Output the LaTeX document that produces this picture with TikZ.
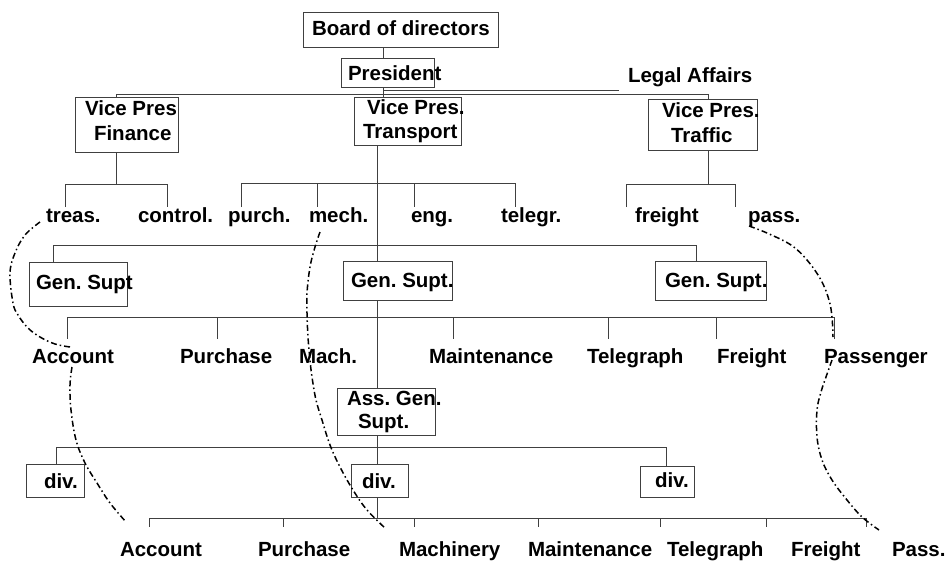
\documentclass[tikz,border=0pt]{standalone}
\usepackage{fontspec}
\setmainfont{Liberation Sans}
\begin{document}
\frenchspacing
\begin{tikzpicture}[x=1pt,y=-1pt,
  font=\fontsize{20.5}{24}\selectfont\bfseries\frenchspacing,
  line/.style={draw=black!75, line width=1pt},
  box/.style={draw=black!75, line width=1pt, inner sep=0pt, outer sep=0pt},
  lbl/.style={anchor=base west, inner sep=0pt, outer sep=0pt},
  dd/.style={line width=1.5pt, dash pattern=on 6pt off 3pt on 1.5pt off 3pt, line cap=butt}
]
\useasboundingbox (0,0) rectangle (948,563);

% ---------- boxes ----------
\node[box, minimum width=195pt, minimum height=35pt] (bod)  at (400.5,29.5) {};
\node[box, minimum width=93pt,  minimum height=29pt] (pres) at (387.5,72.5) {};
\node[box, minimum width=103pt, minimum height=55pt] (vpf)  at (126.5,124.5) {};
\node[box, minimum width=107pt, minimum height=48pt] (vpt)  at (407.5,121) {};
\node[box, minimum width=109pt, minimum height=51pt] (vptr) at (702.5,124.5) {};
\node[box, minimum width=98pt,  minimum height=44pt] (gs1)  at (78,284) {};
\node[box, minimum width=109pt, minimum height=39pt] (gs2)  at (397.5,280.5) {};
\node[box, minimum width=111pt, minimum height=39pt] (gs3)  at (710.5,280.5) {};
\node[box, minimum width=98pt,  minimum height=47pt] (ags)  at (386,411.5) {};
\node[box, minimum width=58pt,  minimum height=33pt] (d1)   at (55,480.5) {};
\node[box, minimum width=57pt,  minimum height=33pt] (d2)   at (379.5,480.5) {};
\node[box, minimum width=54pt,  minimum height=31pt] (d3)   at (667,481.5) {};

% ---------- box texts ----------
\node[lbl] (tbod)  at (312,35)  {Board of directors};
\node[lbl] (tpres) at (348,80)  {President};
\node[lbl] (legal) at (628,82)  {Legal Affairs};
\node[lbl] (tvpf1) at (85,115)  {Vice Pres};
\node[lbl] (tvpf2) at (94,140)  {Finance};
\node[lbl] (tvpt1) at (367,114) {Vice Pres.};
\node[lbl] (tvpt2) at (363,138) {Transport};
\node[lbl] (tvtr1) at (662,117) {Vice Pres.};
\node[lbl] (tvtr2) at (671,142) {Traffic};
\node[lbl] (tgs1)  at (36,289)  {Gen. Supt};
\node[lbl] (tgs2)  at (351,287) {Gen. Supt.};
\node[lbl] (tgs3)  at (665,287) {Gen. Supt.};
\node[lbl] (tags1) at (347,405) {Ass. Gen.};
\node[lbl] (tags2) at (358,428) {Supt.};
\node[lbl] (td1)   at (44,488)  {div.};
\node[lbl] (td2)   at (362,488) {div.};
\node[lbl] (td3)   at (655,487) {div.};

% ---------- row labels ----------
\node[lbl] (treas)   at (46,222)  {treas.};
\node[lbl] (control) at (138,222) {control.};
\node[lbl] (purch)   at (228,222) {purch.};
\node[lbl] (mech)    at (309,222) {mech.};
\node[lbl] (eng)     at (411,222) {eng.};
\node[lbl] (telegr)  at (501,222) {telegr.};
\node[lbl] (freight) at (635,222) {freight};
\node[lbl] (pass)    at (748,222) {pass.};

\node[lbl] (acc2)  at (32,363)  {Account};
\node[lbl] (pur2)  at (180,363) {Purchase};
\node[lbl] (mach2) at (299,363) {Mach.};
\node[lbl] (mai2)  at (429,363) {Maintenance};
\node[lbl] (tel2)  at (587,363) {Telegraph};
\node[lbl] (fre2)  at (717,363) {Freight};
\node[lbl] (pas2)  at (824,363) {Passenger};

\node[lbl] (acc3)  at (120,556) {Account};
\node[lbl] (pur3)  at (258,556) {Purchase};
\node[lbl] (mach3) at (399,556) {Machinery};
\node[lbl] (mai3)  at (528,556) {Maintenance};
\node[lbl] (tel3)  at (667,556) {Telegraph};
\node[lbl] (fre3)  at (791,556) {Freight};
\node[lbl] (pas3)  at (892,556) {Pass.};

% ---------- connectors ----------
\coordinate (pA)   at (383,90);
\coordinate (legE) at (619,90);
\coordinate (vbL)  at (116,94);
\coordinate (vbR)  at (708,94);
\draw[line] (bod.south -| pA) -- (pres.north -| pA);
\draw[line] (pres.south -| pA) -- (vpt.north -| pA);
\draw[line] (pA) -- (legE);
\draw[line] (vpf.north -| vbL) -- (vbL) -- (vbR) -- (vptr.north -| vbR);

% row 1
\coordinate (r1) at (0,207);
\coordinate (fM) at (116,184);
\coordinate (fL) at (65,184);
\coordinate (fR) at (167,184);
\draw[line] (vpf.south -| fM) -- (fM);
\draw[line] (fL |- r1) -- (fL) -- (fR) -- (fR |- r1);

\coordinate (tL) at (241,183);
\coordinate (tm) at (317,183);
\coordinate (te) at (414,183);
\coordinate (tR) at (515,183);
\draw[line] (tL |- r1) -- (tL) -- (tR) -- (tR |- r1);
\draw[line] (tm) -- (tm |- r1);
\draw[line] (te) -- (te |- r1);

\coordinate (trM) at (708,184);
\coordinate (trL) at (626,184);
\coordinate (trR) at (735,184);
\draw[line] (vptr.south -| trM) -- (trM);
\draw[line] (trL |- r1) -- (trL) -- (trR) -- (trR |- r1);

% main vertical
\coordinate (vx) at (377,0);
\draw[line] (vpt.south -| vx) -- (gs2.north -| vx);
\draw[line] (gs2.south -| vx) -- (ags.north -| vx);
\draw[line] (ags.south -| vx) -- (d2.north -| vx);
\coordinate (b3) at (377,518);
\draw[line] (d2.south -| vx) -- (b3);

% gen supt bus
\coordinate (gL) at (53,245);
\coordinate (gR) at (696,245);
\draw[line] (gs1.north -| gL) -- (gL) -- (gR) -- (gs3.north -| gR);

% row 2 bus
\draw[line] (67,317) -- (834,317);
\foreach \x in {67,217,453,608,716,834} \draw[line] (\x,317) -- (\x,339);

% div bus
\coordinate (dL) at (56,447);
\coordinate (dR) at (666,447);
\draw[line] (d1.north -| dL) -- (dL) -- (dR) -- (d3.north -| dR);

% row 3 bus
\draw[line] (149,518) -- (866,518);
\foreach \x in {149,283,414,538,660,766,866} \draw[line] (\x,518) -- (\x,527);

% ---------- dash-dot curves ----------
\draw[dd] plot[smooth, tension=0.6] coordinates {(40,222) (25,235) (15,253) (10,273) (13,303) (18,315) (28,328) (40,337) (55,344) (70,347)};
\draw[dd] plot[smooth, tension=0.6] coordinates {(72,367) (70,385) (71,410) (76,440) (85,463) (97,483) (110,503) (126,522)};
\draw[dd] plot[smooth, tension=0.6] coordinates {(320,232) (315,247) (310,267) (307,293) (307,313) (308,337) (310,360) (312,377) (316,400) (322,420) (330,445) (340,467) (353,490) (367,510) (385,528)};
\draw[dd] plot[smooth, tension=0.6] coordinates {(749,226) (767,233) (791,245) (807,260) (821,280) (829,300) (832,317) (833,337)};
\draw[dd] plot[smooth, tension=0.6] coordinates {(832,360) (826,377) (821,392) (817,410) (817,437) (822,460) (832,480) (847,500) (862,517) (879,530)};
\end{tikzpicture}
\end{document}
